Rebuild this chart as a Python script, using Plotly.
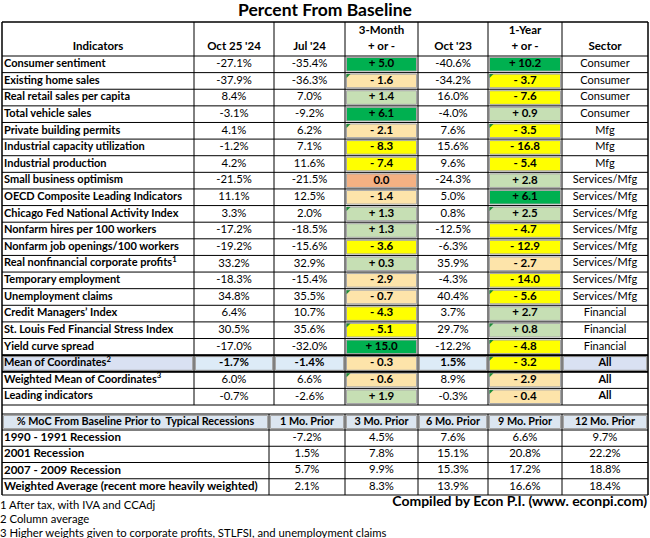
import plotly.graph_objects as go

# ---------------- data ----------------
title = "Percent From Baseline"
col_headers = ["Indicators", "Oct 25 '24", "Jul '24", "3-Month<br>+ or -", "Oct '23", "1-Year<br>+ or -", "Sector"]
indicators = [
    "Consumer sentiment", "Existing home sales", "Real retail sales per capita", "Total vehicle sales",
    "Private building permits", "Industrial capacity utilization", "Industrial production",
    "Small business optimism", "OECD Composite Leading Indicators", "Chicago Fed National Activity Index",
    "Nonfarm hires per 100 workers", "Nonfarm job openings/100 workers",
    "Real nonfinancial corporate profits<sup>1</sup>", "Temporary employment", "Unemployment claims",
    "Credit Managers\u2019 Index", "St. Louis Fed Financial Stress Index", "Yield curve spread",
    "Mean of Coordinates<sup>2</sup>", "Weighted Mean of Coordinates<sup>3</sup>", "Leading indicators",
]
oct25_24 = [-27.1, -37.9, 8.4, -3.1, 4.1, -1.2, 4.2, -21.5, 11.1, 3.3, -17.2, -19.2, 33.2, -18.3, 34.8, 6.4, 30.5, -17.0, -1.7, 6.0, -0.7]
jul_24 = [-35.4, -36.3, 7.0, -9.2, 6.2, 7.1, 11.6, -21.5, 12.5, 2.0, -18.5, -15.6, 32.9, -15.4, 35.5, 10.7, 35.6, -32.0, -1.4, 6.6, -2.6]
chg_3m = [5.0, -1.6, 1.4, 6.1, -2.1, -8.3, -7.4, 0.0, -1.4, 1.3, 1.3, -3.6, 0.3, -2.9, -0.7, -4.3, -5.1, 15.0, -0.3, -0.6, 1.9]
oct_23 = [-40.6, -34.2, 16.0, -4.0, 7.6, 15.6, 9.6, -24.3, 5.0, 0.8, -12.5, -6.3, 35.9, -4.3, 40.4, 3.7, 29.7, -12.2, 1.5, 8.9, -0.3]
chg_1y = [10.2, -3.7, -7.6, 0.9, -3.5, -16.8, -5.4, 2.8, 6.1, 2.5, -4.7, -12.9, -2.7, -14.0, -5.6, 2.7, 0.8, -4.8, -3.2, -2.9, -0.4]
sector = (["Consumer"] * 4 + ["Mfg"] * 3 + ["Services/Mfg"] * 8 + ["Financial"] * 3 + ["All"] * 3)
# Excel "note" flags (small green corner triangles) on the change columns
flag_3m = [0, 1, 0, 0, 1, 0, 0, 0, 0, 1, 0, 0, 0, 0, 1, 0, 1, 0, 0, 1, 0]
flag_1y = [0, 1, 0, 0, 1, 0, 0, 0, 0, 1, 0, 0, 0, 0, 1, 0, 1, 1, 1, 1, 1]

rec_header = ["% MoC From Baseline Prior to  Typical Recessions", "1 Mo. Prior", "3 Mo. Prior", "6 Mo. Prior", "9 Mo. Prior", "12 Mo. Prior"]
rec_labels = ["1990 - 1991 Recession", "2001 Recession", "2007 - 2009 Recession", "Weighted Average (recent more heavily weighted)"]
mo1 = [-7.2, 1.5, 5.7, 2.1]
mo3 = [4.5, 7.8, 9.9, 8.3]
mo6 = [7.6, 15.1, 15.3, 13.9]
mo9 = [6.6, 20.8, 17.2, 16.6]
mo12 = [9.7, 22.2, 18.8, 18.4]

footnotes = ["1 After tax, with IVA and CCAdj", "2 Column average",
             "3 Higher weights given to corporate profits, STLFSI, and unemployment claims"]
credit = "Compiled by Econ P.I. (www. econpi.com)"

# ---------------- layout constants ----------------
W, H = 650, 538
FONT = "Lato"
main_edges = [2, 194, 274, 345, 418, 488, 562, 648]
low_edges = [2, 269, 345, 418, 488, 562, 648]
hdr_top, hdr_bot = 22, 56
main_bot = 405
n = len(indicators)
rh = (main_bot - hdr_bot) / n
low_top, low_hdr_bot, low_bot = 414, 430, 495
lrh = (low_bot - low_hdr_bot) / len(rec_labels)
MEAN_ROW = 18

C_DKGREEN = "#00B050"
C_LTGREEN = "#C6DFB4"
C_PEACH = "#FDE4AA"
C_YELLOW = "#FFFF00"
C_SALMON = "#F4B183"
C_LAV = "#D9E1F2"
C_LTBLUE = "#DDEBF7"
C_HDRBLUE = "#DCE6F1"
C_FLAG = "#1E8C3A"


def chg_color(v):
    if v >= 5:
        return C_DKGREEN
    if v > 0:
        return C_LTGREEN
    if v == 0:
        return C_SALMON
    if v > -3:
        return C_PEACH
    return C_YELLOW


def fmt_pct(v):
    return f"{v:.1f}%"


def fmt_chg(v):
    if v > 0:
        return f"+ {v:.1f}"
    if v < 0:
        return f"- {abs(v):.1f}"
    return f"{v:.1f}"


shapes = []


def rect(x0, x1, y0, y1, fill, line=None, lw=0, inset=0):
    shapes.append(dict(type="rect", xref="x", yref="y", x0=x0 + inset, x1=x1 - inset,
                       y0=y0 + inset, y1=y1 - inset, fillcolor=fill,
                       line=dict(color=line or fill, width=lw), layer="below"))


def hline(x0, x1, y, w=1, c="black"):
    shapes.append(dict(type="line", xref="x", yref="y", x0=x0, x1=x1, y0=y, y1=y,
                       line=dict(color=c, width=w), layer="below"))


def vline(x, y0, y1, w=1, c="black"):
    shapes.append(dict(type="line", xref="x", yref="y", x0=x, x1=x, y0=y0, y1=y1,
                       line=dict(color=c, width=w), layer="below"))


def flag(x, y):
    shapes.append(dict(type="path", xref="x", yref="y",
                       path=f"M{x},{y} L{x + 4},{y} L{x},{y + 4} Z",
                       fillcolor=C_FLAG, line=dict(width=0), layer="below"))


def row_y(i):
    return hdr_bot + i * rh


# colored cells
for i in range(n):
    y0, y1 = row_y(i), row_y(i + 1)
    rect(main_edges[3], main_edges[4], y0, y1, chg_color(chg_3m[i]), "#A6A6A6", 1, 1.5)
    rect(main_edges[5], main_edges[6], y0, y1, chg_color(chg_1y[i]), "#A6A6A6", 1, 1.5)
    if flag_3m[i]:
        flag(main_edges[3] + 1.5, y0 + 1.5)
    if flag_1y[i]:
        flag(main_edges[5] + 1.5, y0 + 1.5)
# mean row highlight
y0, y1 = row_y(MEAN_ROW), row_y(MEAN_ROW + 1)
rect(main_edges[0], main_edges[1], y0, y1, C_LAV, "#A6A6A6", 1, 1.5)
for c in (1, 2, 4):
    rect(main_edges[c], main_edges[c + 1], y0, y1, C_LTBLUE, "#A6A6A6", 1, 1.5)
rect(main_edges[6], main_edges[7], y0, y1, C_LAV, "#A6A6A6", 1, 1.5)
# lower header fills
for c in range(len(low_edges) - 1):
    rect(low_edges[c], low_edges[c + 1], low_top, low_hdr_bot, C_HDRBLUE, "#A6A6A6", 1, 1.5)

# grid lines - main
for x in main_edges[1:-1]:
    vline(x, hdr_top, main_bot)
for i in range(n + 1):
    hline(main_edges[0], main_edges[-1], row_y(i))
hline(main_edges[0], main_edges[-1], hdr_top, 1.5)
# mean row frame
hline(main_edges[0], main_edges[-1], row_y(MEAN_ROW), 2)
hline(main_edges[0], main_edges[-1], row_y(MEAN_ROW + 1), 2)
# grid lines - lower
for x in low_edges[1:-1]:
    vline(x, low_top, low_bot)
hline(low_edges[0], low_edges[-1], low_top)
for i in range(len(rec_labels) + 1):
    hline(low_edges[0], low_edges[-1], low_hdr_bot + i * lrh)
# outer border
vline(main_edges[0], hdr_top, low_bot, 1.5)
vline(main_edges[-1], hdr_top, low_bot, 1.5)

fig = go.Figure()


def text_trace(xs, ys, texts, size=11, bold=False, pos="middle center", color="black"):
    fig.add_trace(go.Scatter(
        x=xs, y=ys, text=[f"<b>{t}</b>" if bold else t for t in texts], mode="text",
        textposition=pos, textfont=dict(family=FONT, size=size, color=color),
        hoverinfo="skip", showlegend=False, cliponaxis=False))


centers = [(main_edges[k] + main_edges[k + 1]) / 2 for k in range(len(main_edges) - 1)]
ys = [row_y(i) + rh / 2 for i in range(n)]

# header
for k, h in enumerate(col_headers):
    parts = h.split("<br>")
    text_trace([centers[k]], [hdr_bot - 9], [parts[-1]], size=11.5, bold=True)
    if len(parts) > 1:
        text_trace([centers[k]], [hdr_bot - 25], [parts[0]], size=11.5, bold=True)

text_trace([main_edges[0] + 2] * n, ys, indicators, size=11, bold=True, pos="middle right")
cols = [(oct25_24, fmt_pct, False), (jul_24, fmt_pct, False), (chg_3m, fmt_chg, True),
        (oct_23, fmt_pct, False), (chg_1y, fmt_chg, True)]
for k, (vals, f, b) in enumerate(cols, start=1):
    reg = [j for j in range(n) if not (b or j == MEAN_ROW)]
    bld = [j for j in range(n) if (b or j == MEAN_ROW)]
    if reg:
        text_trace([centers[k]] * len(reg), [ys[j] for j in reg], [f(vals[j]) for j in reg], size=11.3)
    text_trace([centers[k]] * len(bld), [ys[j] for j in bld], [f(vals[j]) for j in bld], size=11.5, bold=True)
sec_reg = [j for j in range(n) if sector[j] != "All"]
sec_bld = [j for j in range(n) if sector[j] == "All"]
text_trace([centers[6]] * len(sec_reg), [ys[j] for j in sec_reg], [sector[j] for j in sec_reg], size=11)
text_trace([centers[6]] * len(sec_bld), [ys[j] for j in sec_bld], [sector[j] for j in sec_bld], size=11, bold=True)

# lower table
lcent = [(low_edges[k] + low_edges[k + 1]) / 2 for k in range(len(low_edges) - 1)]
text_trace(lcent, [(low_top + low_hdr_bot) / 2] * len(lcent), rec_header, size=10.8, bold=True)
lys = [low_hdr_bot + (i + 0.5) * lrh for i in range(len(rec_labels))]
text_trace([low_edges[0] + 2] * len(rec_labels), lys, rec_labels, size=11.5, bold=True, pos="middle right")
for k, vals in enumerate([mo1, mo3, mo6, mo9, mo12], start=1):
    text_trace([lcent[k]] * len(vals), lys, [fmt_pct(v) for v in vals], size=11.3)

# title, footnotes, credit
text_trace([W / 2], [12], [title], size=17.5, bold=True)
text_trace([0] * 3, [506, 520.5, 534], footnotes, size=11.3, pos="middle right")
text_trace([647], [502], [credit], size=14, bold=True, pos="middle left")

fig.update_layout(
    width=W, height=H, margin=dict(l=0, r=0, t=0, b=0),
    paper_bgcolor="white", plot_bgcolor="white", shapes=shapes,
    xaxis=dict(range=[0, W], visible=False, fixedrange=True),
    yaxis=dict(range=[H, 0], visible=False, fixedrange=True),
)
fig.write_html("out.html", config={"displayModeBar": False},
               post_script="document.body.style.margin='0';document.body.style.overflow='hidden';")
